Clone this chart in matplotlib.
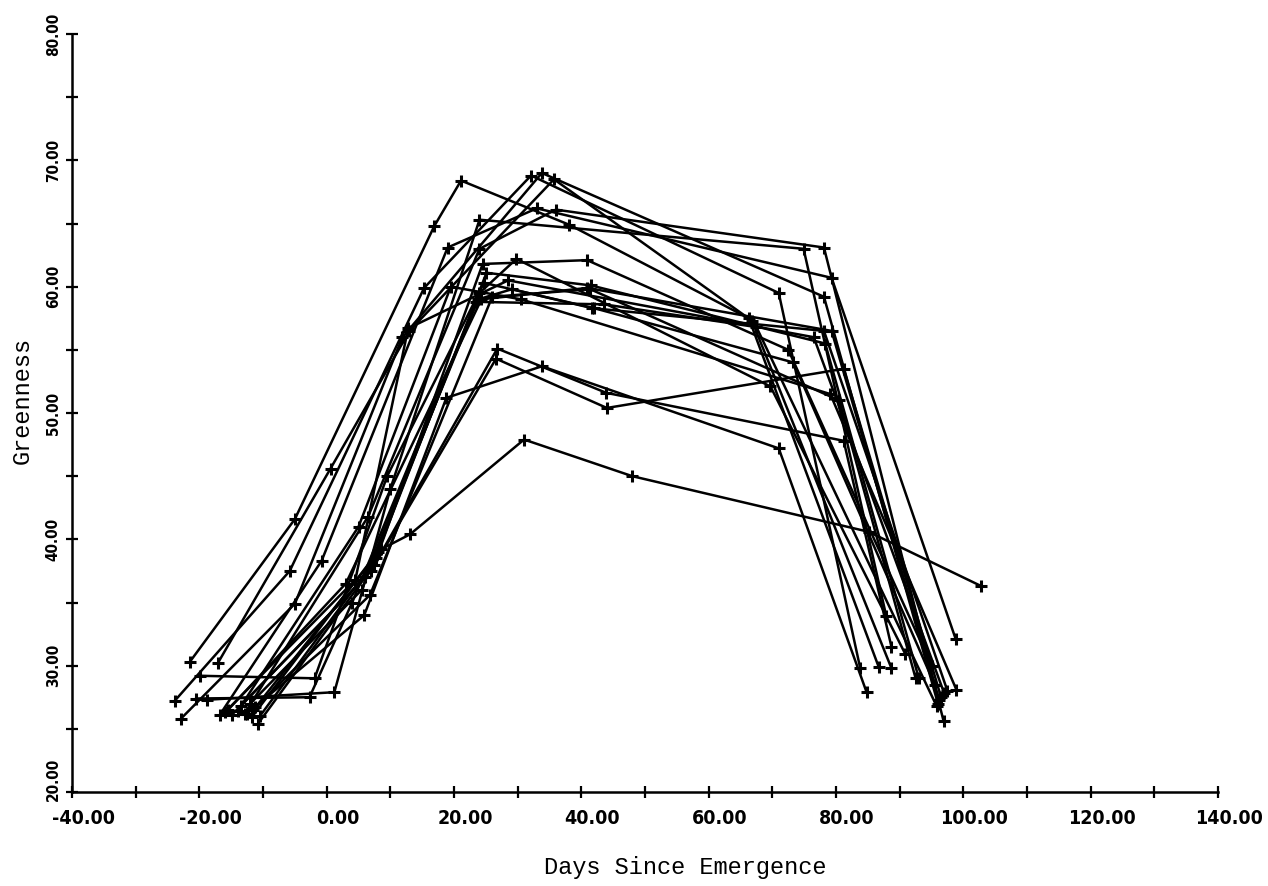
import matplotlib
matplotlib.use("Agg")
import matplotlib.pyplot as plt
from matplotlib.ticker import FixedLocator, FixedFormatter
from matplotlib.transforms import ScaledTranslation

# Greenness profiles, one list of (days since emergence, greenness) per field
field_01 = [(-11.5, 26.5), (8.5, 39.2), (13.1, 40.4), (31.0, 47.9), (48.0, 45.0), (85.1, 40.6), (102.8, 36.3)]
field_02 = [(-12.5, 26.2), (5.9, 34.0), (18.8, 51.2), (33.8, 53.7), (71.0, 47.2), (84.8, 27.9)]
field_03 = [(-10.8, 25.4), (7.5, 38.0), (26.8, 55.1), (43.9, 51.6), (81.2, 47.8), (88.7, 31.5)]
field_04 = [(-14.9, 26.1), (7.0, 37.5), (26.6, 54.3), (44.0, 50.4), (81.2, 53.5), (96.5, 27.5)]
field_05 = [(-23.9, 27.2), (-5.8, 37.5), (15.3, 59.9), (32.1, 68.8), (71.0, 59.5), (83.8, 29.8)]
field_06 = [(-21.5, 30.3), (-5.0, 41.6), (16.9, 64.8), (21.1, 68.4), (38.1, 64.9), (66.3, 57.5), (86.7, 29.9)]
field_07 = [(-22.9, 25.8), (-5.0, 34.9), (11.9, 56.0), (33.8, 69.0), (78.1, 59.2), (96.0, 27.0)]
field_08 = [(-17.1, 30.2), (0.6, 45.6), (13.0, 56.5), (35.7, 68.5), (66.8, 57.3), (88.7, 29.8)]
field_09 = [(-18.8, 27.3), (1.2, 27.9), (10.0, 44.0), (24.0, 65.3), (74.9, 63.0), (87.9, 33.9)]
field_10 = [(-19.9, 29.2), (-1.9, 29.0), (9.5, 45.0), (24.7, 60.3), (42.0, 58.3), (73.3, 54.0), (95.5, 28.5)]
field_11 = [(-16.8, 26.1), (-0.8, 38.3), (19.0, 63.1), (33.0, 66.2), (79.3, 60.7), (98.8, 32.1)]
field_12 = [(-12.9, 26.2), (6.5, 41.8), (24.0, 63.0), (36.0, 66.1), (78.1, 63.1), (96.9, 25.6)]
field_13 = [(-11.8, 25.9), (8.0, 39.0), (25.1, 61.1), (41.5, 60.1), (78.3, 55.5), (93.0, 29.0)]
field_14 = [(-12.0, 27.0), (5.5, 36.0), (24.0, 59.5), (29.8, 62.2), (69.7, 52.1), (90.9, 30.9)]
field_15 = [(-13.5, 26.8), (6.0, 37.0), (23.8, 59.0), (29.1, 59.8), (41.7, 58.3), (78.1, 56.5), (97.5, 28.0)]
field_16 = [(-20.5, 27.4), (-2.7, 27.5), (4.0, 35.0), (23.5, 58.8), (43.6, 58.6), (67.5, 56.8), (95.8, 26.8)]
field_17 = [(-15.5, 26.5), (3.0, 36.5), (24.3, 59.0), (40.9, 59.9), (79.3, 56.5), (96.2, 27.3)]
field_18 = [(-10.5, 26.0), (7.8, 38.5), (24.5, 61.8), (40.9, 62.1), (72.5, 55.0), (95.0, 30.0)]
field_19 = [(-11.2, 26.7), (6.8, 35.6), (26.0, 59.2), (41.4, 59.8), (80.5, 51.0), (92.5, 29.0)]
field_20 = [(-16.0, 26.3), (4.5, 36.8), (12.8, 56.7), (28.5, 60.5), (76.5, 56.0), (97.0, 27.8)]
field_21 = [(-14.0, 26.4), (5.0, 41.0), (19.5, 60.0), (30.5, 59.0), (79.1, 51.5), (98.9, 28.1)]

x_ticks = list(range(-40, 141, 10))
x_labels = ["-40.00", "", "-20.00", "", "0.00", "", "20.00", "", "40.00", "",
            "60.00", "", "80.00", "", "100.00", "", "120.00", "", "140.00"]
y_ticks = list(range(20, 81, 5))
y_labels = ["20.00", "", "30.00", "", "40.00", "", "50.00", "", "60.00", "",
            "70.00", "", "80.00"]

fields = [field_01, field_02, field_03, field_04, field_05, field_06, field_07,
          field_08, field_09, field_10, field_11, field_12, field_13, field_14,
          field_15, field_16, field_17, field_18, field_19, field_20, field_21]

fig = plt.figure(figsize=(12.68, 8.86), dpi=100)
ax = fig.add_axes([0.0568, 0.1061, 0.9038, 0.8555])

for field in fields:
    days = [p[0] for p in field]
    green = [p[1] for p in field]
    ax.plot(days, green, color="black", linewidth=1.8,
            marker="+", markersize=9, markeredgewidth=2.2)

ax.set_xlim(-40, 140)
ax.set_ylim(20, 80)

for side in ["top", "right"]:
    ax.spines[side].set_visible(False)
for side in ["left", "bottom"]:
    ax.spines[side].set_linewidth(1.8)

ax.xaxis.set_major_locator(FixedLocator(x_ticks))
ax.xaxis.set_major_formatter(FixedFormatter(x_labels))
ax.yaxis.set_major_locator(FixedLocator(y_ticks))
ax.yaxis.set_major_formatter(FixedFormatter(y_labels))

ax.tick_params(axis="both", direction="inout", length=8, width=1.6, color="black")
ax.tick_params(axis="x", pad=8)
ax.tick_params(axis="y", pad=4)

shift = ScaledTranslation(11 / 100, 0, fig.dpi_scale_trans)
for lab in ax.get_xticklabels():
    lab.set_family("DejaVu Sans")
    lab.set_fontstretch("condensed")
    lab.set_fontweight("bold")
    lab.set_fontsize(14)
    lab.set_transform(lab.get_transform() + shift)
for lab in ax.get_yticklabels():
    lab.set_family("DejaVu Sans")
    lab.set_fontstretch("condensed")
    lab.set_fontweight("bold")
    lab.set_fontsize(11)
    lab.set_rotation(90)
    lab.set_va("center")
# the lowest y label sits above its tick, clear of the corner
ax.get_yticklabels()[0].set_transform(
    ax.get_yticklabels()[0].get_transform()
    + ScaledTranslation(0, 13 / 100, fig.dpi_scale_trans))

ax.set_xlabel("Days Since Emergence", family="Liberation Mono", fontsize=17)
ax.set_ylabel("Greenness", family="Liberation Mono", fontsize=17)
ax.xaxis.set_label_coords(0.535, -0.084)
ax.yaxis.set_label_coords(-0.033, 0.517)

fig.savefig("out.png", dpi=100)
